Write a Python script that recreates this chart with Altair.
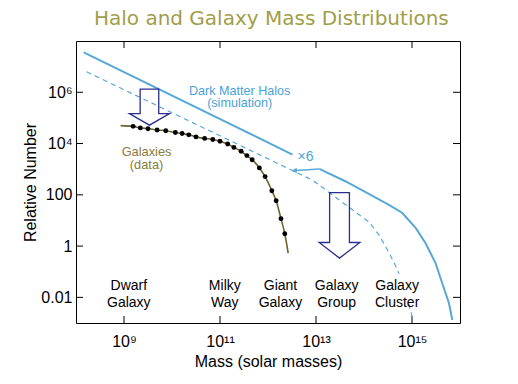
import altair as alt
import pandas as pd

# ---------------- data (log10 mass, log10 relative number) ----------------
# Dark matter halos (simulation), solid line; part 2 resumes after the "x6" gap
halo_logm = [8.16, 12.51, 13.07, 13.62, 14.10, 14.52, 14.80, 15.08, 15.28, 15.49, 15.63, 15.77, 15.84]
halo_logn = [7.56, 3.57, 3.01, 2.52, 2.04, 1.61, 1.29, 0.70, 0.12, -0.66, -1.45, -2.23, -2.88]
halo_part = [1, 1, 2, 2, 2, 2, 2, 2, 2, 2, 2, 2, 2]

# Halos scaled by x6 (dashed line)
dash_logm = [8.22, 12.93, 13.34, 13.62, 13.90, 14.10, 14.31, 14.49, 14.63, 14.73, 14.93, 15.01]
dash_logn = [6.80, 2.57, 2.00, 1.61, 1.22, 0.95, 0.44, -0.15, -0.66, -1.08, -2.25, -2.80]
dash_part = [1, 1, 1, 1, 1, 1, 1, 1, 1, 1, 2, 2]

# Galaxies (data): dots and the fitted curve through them
gal_logm = [9.19, 9.34, 9.50, 9.69, 9.87, 10.07, 10.21, 10.35, 10.50, 10.68, 10.85, 11.00,
            11.16, 11.29, 11.44, 11.56, 11.67, 11.82, 11.94, 12.08, 12.17, 12.27, 12.35]
gal_logn = [4.67, 4.61, 4.58, 4.53, 4.50, 4.43, 4.39, 4.34, 4.26, 4.20, 4.16, 4.09,
            3.98, 3.85, 3.70, 3.53, 3.37, 3.05, 2.71, 2.16, 1.77, 1.07, 0.48]
fit_logm = [8.93, 9.19, 9.34, 9.50, 9.69, 9.87, 10.07, 10.21, 10.35, 10.50, 10.68, 10.85, 11.00,
            11.16, 11.29, 11.44, 11.56, 11.67, 11.82, 11.94, 12.08, 12.17, 12.27, 12.35, 12.42]
fit_logn = [4.70, 4.67, 4.61, 4.58, 4.53, 4.50, 4.43, 4.39, 4.34, 4.26, 4.20, 4.16, 4.09,
            3.98, 3.85, 3.70, 3.53, 3.37, 3.05, 2.71, 2.16, 1.77, 1.07, 0.48, -0.27]

# Hollow down arrows (centres)
arrow1_logm, arrow1_logn = [9.53], [5.42]
arrow2_logm, arrow2_logn = [13.49], [0.81]

# "x6" shift arrow
shift_logm = [13.07, 12.50]
shift_logn = [3.01, 2.94]
shift_head_logm = [12.55]
shift_head_logn = [2.945]

# Annotation labels
title_text = ["Halo and Galaxy Mass Distributions"]
title_logm = [12.07]
title_logn = [8.62]

blue_text = ["Dark Matter Halos\n(simulation)", "×6"]
blue_logm = [11.41, 12.78]
blue_logn = [6.05, 3.47]
blue_size = [12.6, 14]

gal_text = ["Galaxies\n(data)"]
gal_text_logm = [9.47]
gal_text_logn = [3.68]

cat_text = ["Dwarf\nGalaxy", "Milky\nWay", "Giant\nGalaxy", "Galaxy\nGroup", "Galaxy\nCluster"]
cat_logm = [9.10, 11.10, 12.26, 13.43, 14.69]
cat_logn = [-1.55, -1.55, -1.55, -1.55, -1.55]

x_ticks = [9, 11, 13, 15]
x_tick_labels = ["10⁹", "10¹¹", "10¹³", "10¹⁵"]
y_ticks = [6, 4, 2, 0, -2]
y_tick_labels = ["10⁶", "10⁴", "100", "1", "0.01"]

# ---------------- styling ----------------
W, H = 384, 282
HALO = "#58a8d6"
BLUE_TXT = "#4aa2d6"
GAL_LINE = "#6e6430"
GAL_TXT = "#8a7c3a"
ARROW = "#2a2e90"
TITLE = "#a09e48"
FONT = "Liberation Sans"


def label_expr(vals, labels):
    expr = "''"
    for v, l in reversed(list(zip(vals, labels))):
        expr = f"datum.value == {v} ? '{l}' : ({expr})"
    return expr


X = alt.X("m:Q", scale=alt.Scale(domain=[8, 16], nice=False, zero=False),
          axis=alt.Axis(values=x_ticks, labelExpr=label_expr(x_ticks, x_tick_labels),
                        title="Mass (solar masses)", ticks=False, tickSize=0, domain=False,
                        grid=False, labelPadding=10, titlePadding=4, labelFlush=False))
Y = alt.Y("n:Q", scale=alt.Scale(domain=[-3, 8], nice=False, zero=False),
          axis=alt.Axis(values=y_ticks, labelExpr=label_expr(y_ticks, y_tick_labels),
                        title="Relative Number", ticks=False, tickSize=0, domain=False,
                        grid=False, labelPadding=4, titlePadding=2, labelFlush=False))

halo_df = pd.DataFrame({"m": halo_logm, "n": halo_logn, "part": halo_part})
dash_df = pd.DataFrame({"m": dash_logm, "n": dash_logn, "part": dash_part})
gal_df = pd.DataFrame({"m": gal_logm, "n": gal_logn})
fit_df = pd.DataFrame({"m": fit_logm, "n": fit_logn})

halo = alt.Chart(halo_df).mark_line(color=HALO, strokeWidth=2).encode(x=X, y=Y, detail="part:N")
dash = alt.Chart(dash_df).mark_line(color=HALO, strokeWidth=1.2, strokeDash=[5, 4]).encode(
    x=X, y=Y, detail="part:N")
fit = alt.Chart(fit_df).mark_line(color=GAL_LINE, strokeWidth=1.6, interpolate="monotone").encode(x=X, y=Y)
dots = alt.Chart(gal_df).mark_point(filled=True, color="black", size=24, opacity=1).encode(x=X, y=Y)

path1 = "M -0.465 -0.9 L 0.465 -0.9 L 0.465 0.325 L 1 0.325 L 0 0.9 L -1 0.325 L -0.465 0.325 Z"
path2 = "M -0.487 -1.612 L 0.487 -1.612 L 0.487 0.845 L 1 0.845 L 0 1.612 L -1 0.845 L -0.487 0.845 Z"
arrow1 = alt.Chart(pd.DataFrame({"m": arrow1_logm, "n": arrow1_logn})).mark_point(
    shape=path1, size=1600, filled=False, stroke=ARROW, strokeWidth=1.3, opacity=1).encode(x=X, y=Y)
arrow2 = alt.Chart(pd.DataFrame({"m": arrow2_logm, "n": arrow2_logn})).mark_point(
    shape=path2, size=1656, filled=False, stroke=ARROW, strokeWidth=1.3, opacity=1).encode(x=X, y=Y)

shift = alt.Chart(pd.DataFrame({"m": shift_logm, "n": shift_logn})).mark_line(
    color=HALO, strokeWidth=1.5).encode(x=X, y=Y)
shift_head = alt.Chart(pd.DataFrame({"m": shift_head_logm, "n": shift_head_logn})).mark_point(
    shape="triangle-left", filled=True, color=HALO, size=30, opacity=1).encode(x=X, y=Y)

title = alt.Chart(pd.DataFrame({"m": title_logm, "n": title_logn, "t": title_text})).mark_text(
    font="DejaVu Sans", fontSize=20, color=TITLE, baseline="alphabetic", align="center").encode(
    x=X, y=Y, text="t:N")
blue_lbl = alt.Chart(pd.DataFrame({"m": blue_logm, "n": blue_logn, "t": blue_text, "s": blue_size})).mark_text(
    font=FONT, color=BLUE_TXT, lineBreak="\n", lineHeight=12.5, baseline="middle", align="center").encode(
    x=X, y=Y, text="t:N", size=alt.Size("s:Q", scale=None, legend=None))
gal_lbl = alt.Chart(pd.DataFrame({"m": gal_text_logm, "n": gal_text_logn, "t": gal_text})).mark_text(
    font=FONT, fontSize=12.8, color=GAL_TXT, lineBreak="\n", lineHeight=13.3, baseline="middle",
    align="center").encode(x=X, y=Y, text="t:N")
cat_lbl = alt.Chart(pd.DataFrame({"m": cat_logm, "n": cat_logn, "t": cat_text})).mark_text(
    font=FONT, fontSize=14, color="black", lineBreak="\n", lineHeight=17, baseline="middle",
    align="center").encode(x=X, y=Y, text="t:N")

xt = pd.DataFrame({"m": x_ticks})
yt = pd.DataFrame({"n": y_ticks})
tick_b = alt.Chart(xt).mark_rule(color="black", strokeWidth=1).encode(x=X, y=alt.value(H), y2=alt.value(H - 7))
tick_t = alt.Chart(xt).mark_rule(color="black", strokeWidth=1).encode(x=X, y=alt.value(0), y2=alt.value(7))
tick_l = alt.Chart(yt).mark_rule(color="black", strokeWidth=1).encode(y=Y, x=alt.value(0), x2=alt.value(7))
tick_r = alt.Chart(yt).mark_rule(color="black", strokeWidth=1).encode(y=Y, x=alt.value(W), x2=alt.value(W - 7))

chart = alt.layer(
    tick_b, tick_t, tick_l, tick_r,
    dash, halo, fit, dots, arrow1, arrow2, shift, shift_head,
    title, blue_lbl, gal_lbl, cat_lbl,
).properties(
    width=W, height=H,
    autosize=alt.AutoSizeParams(type="none"),
    padding={"left": 68, "top": 33, "right": 40, "bottom": 52},
).configure_view(stroke="black", strokeWidth=1).configure_axis(
    labelFont=FONT, labelFontSize=16, labelColor="black",
    titleFont=FONT, titleFontSize=16, titleColor="black", titleFontWeight="normal",
)

chart.save("out.html", embed_options={"renderer": "svg", "actions": False})
